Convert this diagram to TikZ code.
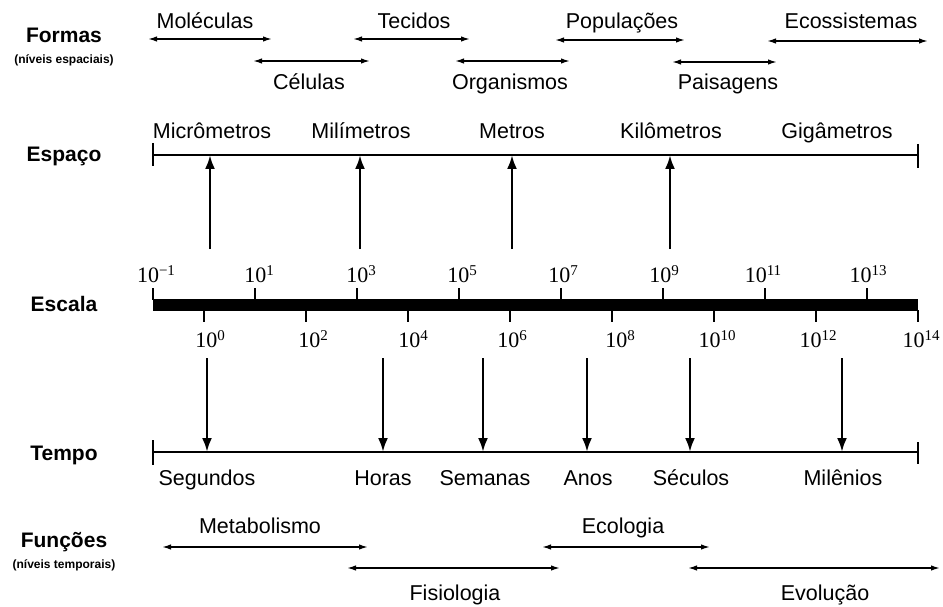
\documentclass[tikz,border=0pt]{standalone}
\usepackage{fontspec}
\setmainfont{Liberation Sans}
\newfontfamily\numfont{Liberation Serif}
\usetikzlibrary{arrows.meta}
\newcommand\tenpow[1]{10\raisebox{0.3em}{\fontsize{15}{15}\selectfont #1}}
\tikzset{
 lbl/.style={font=\fontsize{21.5}{24}\selectfont, inner sep=0pt, anchor=base},
 rowlbl/.style={font=\bfseries\fontsize{21}{24}\selectfont, inner sep=0pt, anchor=base},
 sublbl/.style={font=\bfseries\fontsize{12}{13}\selectfont, inner sep=0pt, anchor=base},
 num/.style={font=\numfont\fontsize{22}{24}\selectfont, inner sep=0pt, anchor=base},
 span/.style={line width=1.5pt, {Latex[length=9pt,width=5.5pt]}-{Latex[length=9pt,width=5.5pt]}},
 axis/.style={line width=1.4pt},
 tick/.style={line width=1.6pt},
 pointer/.style={line width=2.5pt, -{Latex[length=14pt,width=10pt]}},
}
\begin{document}
\begin{tikzpicture}[x=1pt,y=-1pt]
\useasboundingbox (0,0) rectangle (943,607);
% ---------- row labels
\node[rowlbl] (formas) at (64,43) {Formas};
\node[sublbl] (formasSub) at (64,64) {(níveis espaciais)};
\node[rowlbl] (espaco) at (64,162) {Espaço};
\node[rowlbl] (escala) at (64,311) {Escala};
\node[rowlbl] (tempo) at (64,460) {Tempo};
\node[rowlbl] (funcoes) at (64,547) {Funções};
\node[sublbl] (funcoesSub) at (64,568) {(níveis temporais)};
% ---------- Formas
\node[lbl] (molec) at (205,29) {Moléculas};
\coordinate (molA) at (148,39); \coordinate (molB) at (272,39);
\draw[span] (molA) -- (molB);
\node[lbl] (cel) at (309,90) {Células};
\coordinate (celA) at (253,61); \coordinate (celB) at (370,61);
\draw[span] (celA) -- (celB);
\node[lbl] (tec) at (414,29) {Tecidos};
\coordinate (tecA) at (353,39); \coordinate (tecB) at (470,39);
\draw[span] (tecA) -- (tecB);
\node[lbl] (org) at (510,90) {Organismos};
\coordinate (orgA) at (455,61); \coordinate (orgB) at (570,61);
\draw[span] (orgA) -- (orgB);
\node[lbl] (pop) at (622,29) {Populações};
\coordinate (popA) at (555,40); \coordinate (popB) at (685,40);
\draw[span] (popA) -- (popB);
\node[lbl] (pais) at (728,90) {Paisagens};
\coordinate (paiA) at (672,62); \coordinate (paiB) at (777,62);
\draw[span] (paiA) -- (paiB);
\node[lbl] (ecos) at (851,29) {Ecossistemas};
\coordinate (ecoA) at (767,41); \coordinate (ecoB) at (928,41);
\draw[span] (ecoA) -- (ecoB);
% ---------- Espaço axis
\coordinate (eL) at (153,155); \coordinate (eR) at (918,155);
\draw[axis] (eL) -- (eR);
\draw[tick] (153,143) -- (153,166);
\draw[tick] (918,144) -- (918,168);
\node[lbl] (micro) at (212,139) {Micrômetros};
\node[lbl] (mili) at (361,139) {Milímetros};
\node[lbl] (metr) at (512,139) {Metros};
\node[lbl] (kilo) at (671,139) {Kilômetros};
\node[lbl] (giga) at (837,139) {Gigâmetros};
\foreach \n/\x in {pMicro/210,pMili/360,pMetr/512,pKilo/670}{
  \coordinate (\n S) at (\x,249);
  \coordinate (\n E) at (\x,155);
  \draw[pointer] (\n S) -- (\n E);
}
% ---------- Escala bar
\fill (153,299) rectangle (918,311);
\foreach \x in {153,255,357,459,561,663,765,867}{
  \draw[tick] (\x,288) -- (\x,300);
}
\foreach \x in {204,306,408,510,612,714,816,918}{
  \draw[tick] (\x,310) -- (\x,322);
}
\node[num] (nm1) at (156,282) {\tenpow{−1}};
\node[num] (n1) at (259,282) {\tenpow{1}};
\node[num] (n3) at (361,282) {\tenpow{3}};
\node[num] (n5) at (462,282) {\tenpow{5}};
\node[num] (n7) at (563,282) {\tenpow{7}};
\node[num] (n9) at (664,282) {\tenpow{9}};
\node[num] (n11) at (763,282) {\tenpow{11}};
\node[num] (n13) at (868,282) {\tenpow{13}};
\node[num] (n0) at (210,347) {\tenpow{0}};
\node[num] (n2) at (313,347) {\tenpow{2}};
\node[num] (n4) at (413,347) {\tenpow{4}};
\node[num] (n6) at (512,347) {\tenpow{6}};
\node[num] (n8) at (620,347) {\tenpow{8}};
\node[num] (n10) at (717,347) {\tenpow{10}};
\node[num] (n12) at (818,347) {\tenpow{12}};
\node[num] (n14) at (921,347) {\tenpow{14}};
% ---------- Tempo axis
\coordinate (tL) at (153,452); \coordinate (tR) at (918,452);
\draw[axis] (tL) -- (tR);
\draw[tick] (153,440) -- (153,465);
\draw[tick] (918,442) -- (918,464);
\node[lbl] (seg) at (207,485) {Segundos};
\node[lbl] (hor) at (383,485) {Horas};
\node[lbl] (sem) at (485,485) {Semanas};
\node[lbl] (ano) at (588,485) {Anos};
\node[lbl] (sec) at (691,485) {Séculos};
\node[lbl] (mil) at (843,485) {Milênios};
\foreach \n/\x in {pSeg/207,pHor/383,pSem/483,pAno/587,pSec/690,pMil/842}{
  \coordinate (\n S) at (\x,358);
  \coordinate (\n E) at (\x,452);
  \draw[pointer] (\n S) -- (\n E);
}
% ---------- Funções
\node[lbl] (meta) at (260,533) {Metabolismo};
\coordinate (metA) at (162,547); \coordinate (metB) at (368,547);
\draw[span] (metA) -- (metB);
\node[lbl] (fisi) at (455,600) {Fisiologia};
\coordinate (fisA) at (347,568); \coordinate (fisB) at (560,568);
\draw[span] (fisA) -- (fisB);
\node[lbl] (ecol) at (623,533) {Ecologia};
\coordinate (ecA) at (542,547); \coordinate (ecB) at (710,547);
\draw[span] (ecA) -- (ecB);
\node[lbl] (evol) at (825,600) {Evolução};
\coordinate (evA) at (688,568); \coordinate (evB) at (940,568);
\draw[span] (evA) -- (evB);
\end{tikzpicture}
\end{document}
